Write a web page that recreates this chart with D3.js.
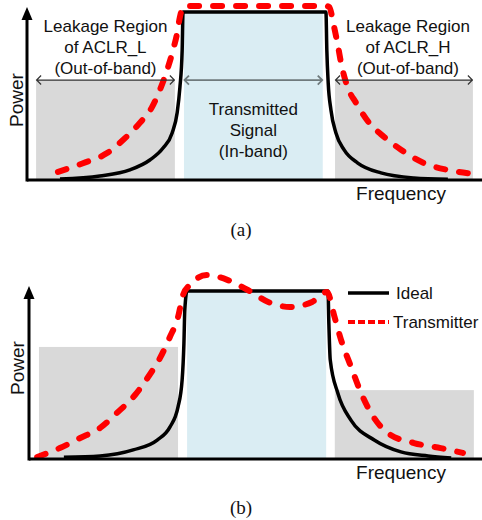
<!DOCTYPE html>
<html>
<head>
<meta charset="utf-8">
<script src="https://cdn.jsdelivr.net/npm/d3@7"></script>
<style>
  body { margin: 0; background: #fff; }
  svg { display: block; }
  text { font-family: "Liberation Sans", Arial, sans-serif; fill: #111; }
  .caption { font-family: "Liberation Serif", "Times New Roman", serif; }
</style>
</head>
<body>
<svg width="482" height="520"></svg>
<script>
// frequency is 0..100 across the axis, power is 1.0 at the ideal in-band level

// panel (a)
const bandEdgesA = [[2, 32.5], [34.5, 65], [67.7, 98]];
const bandTopA = [0.595, 1.0, 0.595];
const idealFreqA = [7.25, 16, 22.6, 27, 29.9, 31.9, 33, 33.6, 34.1, 34.3, 65.7, 65.9, 66.2, 66.8, 67.9, 69.7, 72.7, 77.8, 85, 92.5];
const idealPowA = [0.006, 0.024, 0.06, 0.119, 0.19, 0.28, 0.40, 0.55, 0.77, 1.0, 1.0, 0.77, 0.577, 0.417, 0.28, 0.179, 0.101, 0.042, 0.012, 0.004];
const txFreqA = [6.8, 12.3, 17.6, 21.1, 24.8, 27.5, 29.2, 30.8, 32.1, 33.0, 33.6, 34.5, 65.9, 66.4, 67.5, 68.4, 69.0, 70.5, 72.3, 75.2, 78.5, 82.2, 87.3, 92.5, 98.2];
const txPowA = [0.048, 0.10, 0.16, 0.238, 0.34, 0.435, 0.536, 0.655, 0.774, 0.875, 0.97, 1.035, 1.035, 1.03, 0.91, 0.79, 0.70, 0.55, 0.46, 0.34, 0.256, 0.18, 0.10, 0.06, 0.036];
const bandTextA = [
  ['Leakage Region', 'of ACLR_L', '(Out-of-band)'],
  ['Transmitted', 'Signal', '(In-band)'],
  ['Leakage Region', 'of ACLR_H', '(Out-of-band)']
];

// panel (b)
const bandEdgesB = [[2.2, 32.9], [34.9, 65.6], [67.5, 98.2]];
const bandTopB = [0.667, 1.0, 0.41];
const idealFreqB = [7.7, 15.7, 23.0, 28.3, 31.1, 32.9, 33.8, 34.2, 34.4, 34.9, 66.0, 66.2, 66.5, 68.2, 71.1, 76.2, 82.1, 88.1, 93.2];
const idealPowB = [0.01, 0.018, 0.054, 0.113, 0.19, 0.31, 0.47, 0.69, 0.89, 1.0, 1.0, 0.8, 0.59, 0.39, 0.23, 0.113, 0.042, 0.018, 0.006];
const txFreqB = [1.8, 6.8, 11.3, 15.7, 19.4, 23.4, 26.3, 28.9, 31.1, 32.9, 34.0, 35.5, 39.3, 43.9, 48.3, 52.8, 57.6, 62.5, 65.8, 67.4, 68.9, 71.1, 73.3, 75.5, 79.2, 85.0, 90.9, 95.8];
const txPowB = [0.012, 0.065, 0.125, 0.185, 0.274, 0.381, 0.488, 0.60, 0.726, 0.845, 0.976, 1.036, 1.095, 1.065, 1.006, 0.935, 0.905, 0.935, 0.994, 0.85, 0.708, 0.548, 0.393, 0.274, 0.155, 0.095, 0.065, 0.036];
const legendNames = ['Ideal', 'Transmitter'];

const bandColors = ['#d9d9d9', '#daedf3', '#d9d9d9'];

const svg = d3.select('svg');

const zip = (fs, ps) => fs.map((f, i) => ({ f: f, p: ps[i] }));

const drawPanel = (cfg) => {
    const g = svg.append('g');
    const x = d3.scaleLinear().domain([0, 100]).range([cfg.axisX, 482]);
    const y = d3.scaleLinear().domain([0, 1]).range([cfg.base, cfg.base - 168]);

    // bands
    g.selectAll('rect.band')
        .data(cfg.edges)
        .enter().append('rect')
        .attr('class', 'band')
        .attr('x', d => x(d[0]))
        .attr('width', d => x(d[1]) - x(d[0]))
        .attr('y', (d, i) => y(cfg.tops[i]))
        .attr('height', (d, i) => y(0) - y(cfg.tops[i]))
        .attr('fill', (d, i) => bandColors[i]);

    const line = d3.line()
        .x(d => x(d.f))
        .y(d => y(d.p))
        .curve(d3.curveMonotoneX);

    g.append('path')
        .attr('d', line(zip(cfg.idealF, cfg.idealP)))
        .attr('fill', 'none')
        .attr('stroke', '#000')
        .attr('stroke-width', 3.5);

    g.append('path')
        .attr('d', line(zip(cfg.txF, cfg.txP)))
        .attr('fill', 'none')
        .attr('stroke', '#ff0000')
        .attr('stroke-width', 6)
        .attr('stroke-linecap', 'round')
        .attr('stroke-dasharray', '9,14');

    // axes
    g.append('line')
        .attr('x1', cfg.axisX).attr('x2', 482)
        .attr('y1', cfg.base).attr('y2', cfg.base)
        .attr('stroke', '#000').attr('stroke-width', 3);
    g.append('line')
        .attr('x1', cfg.axisX).attr('x2', cfg.axisX)
        .attr('y1', cfg.base + 1.5).attr('y2', cfg.tip + 10)
        .attr('stroke', '#000').attr('stroke-width', 3);
    g.append('path')
        .attr('d', `M${cfg.axisX},${cfg.tip} L${cfg.axisX + 5.5},${cfg.tip + 13} L${cfg.axisX - 5.5},${cfg.tip + 13} Z`)
        .attr('fill', '#000');

    g.append('text')
        .attr('transform', `translate(${cfg.powerX},${cfg.powerY}) rotate(-90)`)
        .attr('text-anchor', 'middle')
        .style('font-size', '19px')
        .text('Power');

    g.append('text')
        .attr('x', 401).attr('y', cfg.base + 20)
        .attr('text-anchor', 'middle')
        .style('font-size', '19px')
        .text('Frequency');

    g.append('text')
        .attr('class', 'caption')
        .attr('x', 241).attr('y', cfg.captionY)
        .attr('text-anchor', 'middle')
        .style('font-size', '19px')
        .text(cfg.caption);

    return { g: g, x: x, y: y };
};

// (a)
const a = drawPanel({
    axisX: 27, base: 180, tip: 7,
    edges: bandEdgesA, tops: bandTopA,
    idealF: idealFreqA, idealP: idealPowA,
    txF: txFreqA, txP: txPowA,
    powerX: 23, powerY: 100, captionY: 236, caption: '(a)'
});

// double arrows across each band
const arrowY = a.y(bandTopA[0]);
const arrows = a.g.append('g');
bandEdgesA.forEach((e, i) => {
    const x0 = a.x(e[0]);
    const x1 = a.x(e[1]);
    const col = i === 1 ? '#6f7a7c' : '#333';
    arrows.append('path')
        .attr('d', `M${x0},${arrowY}H${x1} M${x0 + 5},${arrowY - 4.5}L${x0 + 0.5},${arrowY}L${x0 + 5},${arrowY + 4.5} M${x1 - 5},${arrowY - 4.5}L${x1 - 0.5},${arrowY}L${x1 - 5},${arrowY + 4.5}`)
        .attr('fill', 'none')
        .attr('stroke', col)
        .attr('stroke-width', i === 1 ? 1.8 : 1.2);
});

// band labels
const labelX = [0, 0, 4];
const labelBase = [32, 115, 32];
bandTextA.forEach((lines, i) => {
    const cx = (a.x(bandEdgesA[i][0]) + a.x(bandEdgesA[i][1])) / 2 + labelX[i];
    a.g.append('text')
        .attr('text-anchor', 'middle')
        .style('font-size', '17px')
        .selectAll('tspan')
        .data(lines)
        .enter().append('tspan')
        .attr('x', cx)
        .attr('y', (d, j) => labelBase[i] + j * 21)
        .text(d => d);
});

// (b)
const b = drawPanel({
    axisX: 29, base: 459, tip: 286,
    edges: bandEdgesB, tops: bandTopB,
    idealF: idealFreqB, idealP: idealPowB,
    txF: txFreqB, txP: txPowB,
    powerX: 24, powerY: 368, captionY: 514, caption: '(b)'
});

// legend
const legend = b.g.append('g');
legendNames.forEach((name, i) => {
    const ly = 293 + i * 29;
    legend.append('line')
        .attr('x1', 348).attr('x2', 389)
        .attr('y1', ly).attr('y2', ly)
        .attr('stroke', i === 0 ? '#000' : '#ff0000')
        .attr('stroke-width', i === 0 ? 3.5 : 4)
        .attr('stroke-dasharray', i === 0 ? null : '7,3');
    legend.append('text')
        .attr('x', i === 0 ? 396 : 393)
        .attr('y', ly + 6)
        .style('font-size', '17px')
        .text(name);
});
</script>
</body>
</html>
